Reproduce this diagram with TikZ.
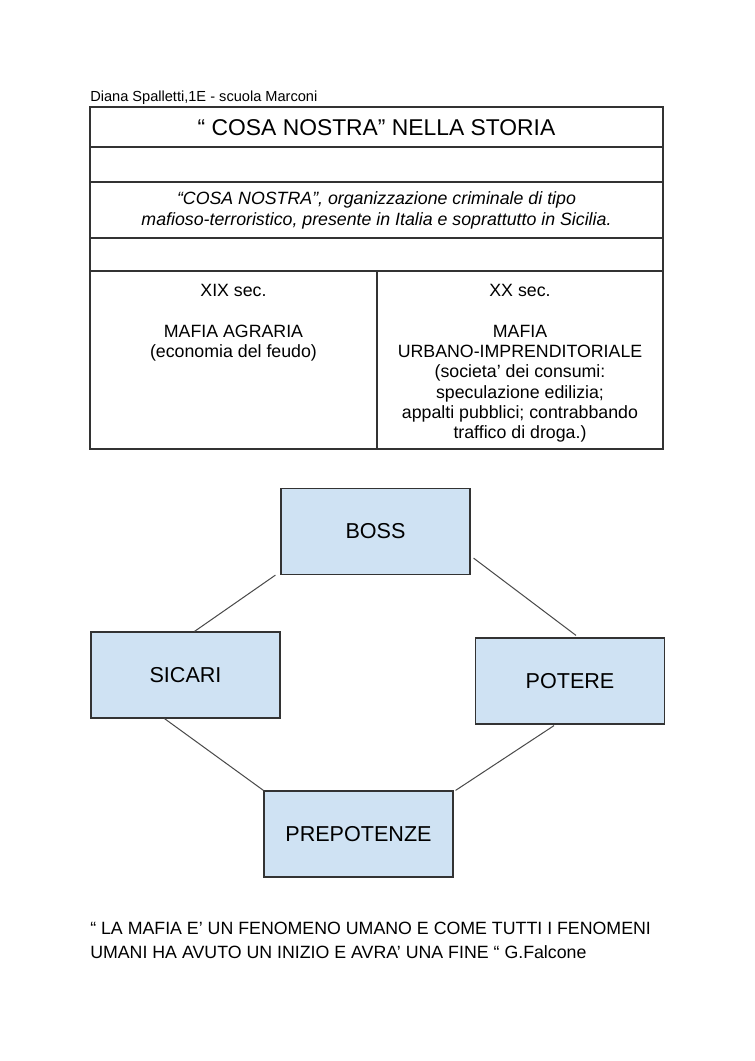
\documentclass[tikz,border=0pt]{standalone}
\usepackage{fontspec}
\setmainfont{Liberation Sans}
\usetikzlibrary{positioning, calc}

\definecolor{boxblue}{HTML}{CFE2F3}
\definecolor{ruledark}{HTML}{333333}
\definecolor{linkgrey}{HTML}{4A4A4A}

\begin{document}
\begin{tikzpicture}[
        x=0.788pt, y=-0.788pt,
        cell/.style={inner sep=0pt, align=center, font=\fontsize{14pt}{16pt}\selectfont},
        role/.style={rectangle, draw=ruledark, line width=0.9pt, fill=boxblue, minimum width=148.9pt, minimum height=67.8pt, inner sep=0pt, font=\fontsize{17pt}{20pt}\selectfont},
        connector/.style={draw=linkgrey, line width=0.8pt},
        grid/.style={draw=ruledark, line width=0.8pt}
    ]
        \useasboundingbox (0,0) rectangle (755,1061);

        % header and table
        \node[anchor=west, inner sep=0pt, font=\fontsize{11.5pt}{13pt}\selectfont] (author) at (90,98) {Diana Spalletti,1E - scuola Marconi};
        \draw[grid] (90,107) rectangle (663,449);
        \foreach \y in {147,182,238,271}
            \draw[grid] (90,\y) -- (663,\y);
        \draw[grid] (377,271) -- (377,449);

        \node[cell, font=\fontsize{18pt}{20pt}\selectfont] (title) at (376.5,128) {“ COSA NOSTRA” NELLA STORIA};
        \node[cell, font=\fontsize{14pt}{16.5pt}\selectfont\itshape] (intro) at (376.5,210) {“COSA NOSTRA”, organizzazione criminale di tipo\\mafioso-terroristico, presente in Italia e soprattutto in Sicilia.};
        \node[cell, anchor=north] (xix) at (233.5,284) {XIX sec.\\[16pt]MAFIA AGRARIA\\(economia del feudo)};
        \node[cell, anchor=north] (xx) at (520,284) {XX sec.\\[16pt]MAFIA\\URBANO-IMPRENDITORIALE\\(societa’ dei consumi:\\speculazione edilizia;\\appalti pubblici; contrabbando\\traffico di droga.)};

        % the four boxes
        \node[role] (boss) at (375.5,531.5) {BOSS};
        \node[role] (sicari) at (185.5,675) {SICARI};
        \node[role] (potere) at (570,681) {POTERE};
        \node[role] (prepotenze) at (358.5,834) {PREPOTENZE};

        \draw[connector] ($(boss.south west)+(-5,0)$) -- ($(sicari.north)+(9,0)$);
        \draw[connector] ($(boss.south east)+(3,-17)$) -- ($(potere.north)+(6,-2)$);
        \draw[connector] ($(sicari.south)+(-21,0)$) -- (prepotenze.north west);
        \draw[connector] ($(potere.south)+(-16,1)$) -- ($(prepotenze.north east)+(2,0)$);

        % quote
        \node[anchor=north west, inner sep=0pt, align=left, font=\fontsize{14pt}{18.9pt}\selectfont] (quote) at (90,922) {“ LA MAFIA E’ UN FENOMENO UMANO E COME TUTTI I FENOMENI\\UMANI HA AVUTO UN INIZIO E AVRA’ UNA FINE “ G.Falcone};
    \end{tikzpicture}
\end{document}
